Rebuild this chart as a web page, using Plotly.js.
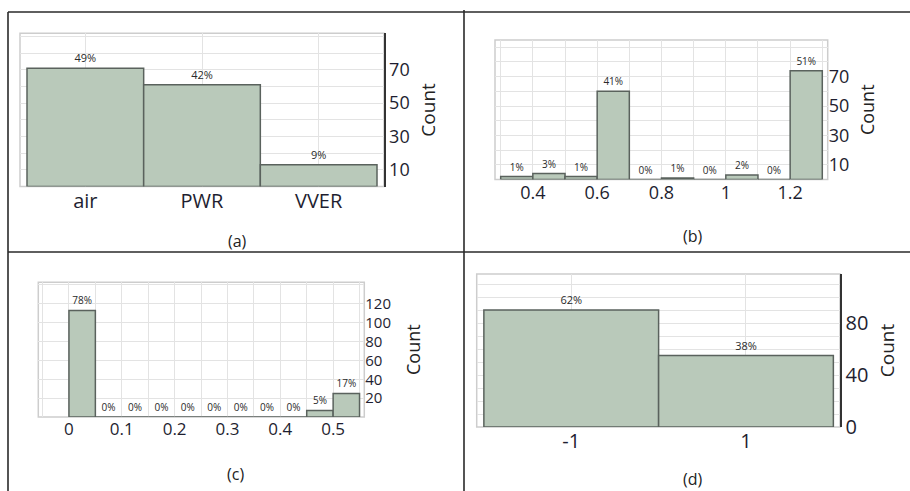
<!DOCTYPE html>
<html><head><meta charset="utf-8">
<script src="https://cdn.plot.ly/plotly-3.0.1.min.js"></script>
<style>html,body{margin:0;padding:0;background:#fff}#chart{width:910px;height:491px}</style>
</head><body><div id="chart"></div>
<script>
// ---------- data ----------
// (a)
const aCategories = ['air', 'PWR', 'VVER'];
const aCounts = [71, 61, 13];
const aPercents = ['49%', '42%', '9%'];
const aYGrid = [0, 10, 20, 30, 40, 50, 60, 70, 80, 90];
const aYLabels = [10, 30, 50, 70];
// (b)
const bBinEdges = [0.3, 0.4, 0.5, 0.6, 0.7, 0.8, 0.9, 1.0, 1.1, 1.2, 1.3];
const bCounts = [2, 4, 2, 60, 0, 1, 0, 3, 0, 74];
const bPercents = ['1%', '3%', '1%', '41%', '0%', '1%', '0%', '2%', '0%', '51%'];
const bXGrid = [0.3, 0.4, 0.5, 0.6, 0.7, 0.8, 0.9, 1.0, 1.1, 1.2, 1.3];
const bXLabels = [0.4, 0.6, 0.8, 1, 1.2];
const bYGrid = [0, 10, 20, 30, 40, 50, 60, 70, 80, 90];
const bYLabels = [10, 30, 50, 70];
// (c)
const cBinEdges = [0, 0.05, 0.1, 0.15, 0.2, 0.25, 0.3, 0.35, 0.4, 0.45, 0.5, 0.55];
const cCounts = [113, 0, 0, 0, 0, 0, 0, 0, 0, 7, 25];
const cPercents = ['78%', '0%', '0%', '0%', '0%', '0%', '0%', '0%', '0%', '5%', '17%'];
const cXGrid = [-0.05, 0, 0.05, 0.1, 0.15, 0.2, 0.25, 0.3, 0.35, 0.4, 0.45, 0.5, 0.55];
const cXLabels = [0, 0.1, 0.2, 0.3, 0.4, 0.5];
const cYGrid = [0, 20, 40, 60, 80, 100, 120, 140];
const cYLabels = [20, 40, 60, 80, 100, 120];
// (d)
const dCategories = ['-1', '1'];
const dCounts = [90, 55];
const dPercents = ['62%', '38%'];
const dYGrid = [0, 10, 20, 30, 40, 50, 60, 70, 80, 90, 100, 110];
const dYLabels = [0, 40, 80];

const panelLabels = ['(a)', '(b)', '(c)', '(d)'];
const yTitle = 'Count';

// ---------- helpers ----------
const W = 910, H = 491;
const F = '"Open Sans", "Noto Sans", sans-serif';
const fx = p => p / W;
const fy = p => 1 - p / H;
const GRID = '#e3e3e3';
const TICKC = '#1e1e30';
const BAR_FILL = '#b9c9ba';
const BAR_LINE = '#5a625d';

const centers = e => e.slice(0, -1).map((v, i) => (v + e[i + 1]) / 2);
const widths = e => e.slice(0, -1).map((v, i) => e[i + 1] - v);
const tickText = (grid, labels) => grid.map(v => labels.some(l => Math.abs(l - v) < 1e-9) ? String(+v.toFixed(3)) : '');

function barTrace(x, y, text, xa, ya, w, fontSize) {
  return {
    type: 'bar', x: x, y: y, width: w, text: text,
    textposition: 'outside', cliponaxis: false, constraintext: 'none',
    textfont: {family: F, size: fontSize, color: '#2a2a2a'},
    marker: {color: BAR_FILL, line: {color: BAR_LINE, width: 1.5}},
    xaxis: xa, yaxis: ya, hoverinfo: 'skip', showlegend: false
  };
}

const data = [
  barTrace(aCategories, aCounts, aPercents, 'x', 'y', 1, 11),
  barTrace(centers(bBinEdges), bCounts, bPercents, 'x2', 'y2', widths(bBinEdges), 10),
  barTrace(centers(cBinEdges), cCounts, cPercents, 'x3', 'y3', widths(cBinEdges), 10),
  barTrace(dCategories, dCounts, dPercents, 'x4', 'y4', 1, 11)
];

function xAx(l, r, anchor, extra) {
  return Object.assign({
    domain: [fx(l), fx(r)], anchor: anchor, showgrid: true, gridcolor: GRID, gridwidth: 1,
    zeroline: false, showline: false, ticks: '', fixedrange: true,
    tickfont: {family: F, size: 18, color: TICKC}
  }, extra);
}
function yAx(top, bottom, anchor, range, grid, labels, lineColor, tsize, ttsize, standoff) {
  return {
    domain: [fy(bottom), fy(top)], anchor: anchor, side: 'right', range: range,
    tickmode: 'array', tickvals: grid, ticktext: tickText(grid, labels),
    showgrid: true, gridcolor: GRID, gridwidth: 1, zeroline: false, ticks: '',
    showline: !!lineColor, linecolor: lineColor || '#ccc', linewidth: 1.5,
    fixedrange: true,
    tickfont: {family: F, size: tsize, color: TICKC},
    title: {text: yTitle, font: {family: F, size: ttsize, color: '#222'}, standoff: standoff}
  };
}

function frame(xa, ya) {
  return {type: 'rect', xref: xa + ' domain', yref: ya + ' domain', x0: 0, x1: 1, y0: 0, y1: 1,
          line: {color: '#cdcdcd', width: 1.5}, layer: 'below'};
}
function sep(x0, y0, x1, y1) {
  return {type: 'line', xref: 'paper', yref: 'paper', x0: fx(x0), y0: fy(y0), x1: fx(x1), y1: fy(y1),
          line: {color: '#2a2a2a', width: 1.6}};
}
function lab(t, x, y) {
  return {text: t, xref: 'paper', yref: 'paper', x: fx(x), y: fy(y), showarrow: false,
          xanchor: 'center', yanchor: 'middle', font: {family: F, size: 16, color: '#222'}};
}

const layout = {
  width: W, height: H, margin: {l: 0, r: 0, t: 0, b: 0},
  paper_bgcolor: '#fff', plot_bgcolor: '#fff', showlegend: false, bargap: 0,
  font: {family: F},
  xaxis: xAx(20, 384, 'y', {type: 'category', range: [-0.56, 2.56], tickfont: {family: F, size: 20, color: TICKC}}),
  yaxis: yAx(33.3, 186.5, 'x', [0, 91.9], aYGrid, aYLabels, '#333', 18, 19, 13),
  xaxis2: xAx(495, 827.7, 'y2', {range: [0.2823, 1.3168], tickmode: 'array', tickvals: bXGrid, ticktext: tickText(bXGrid, bXLabels)}),
  yaxis2: yAx(40, 179.5, 'x2', [0, 94.9], bYGrid, bYLabels, null, 18, 18, 13),
  xaxis3: xAx(38.3, 364.3, 'y3', {range: [-0.058, 0.559], tickmode: 'array', tickvals: cXGrid, ticktext: tickText(cXGrid, cXLabels), tickfont: {family: F, size: 17, color: TICKC}}),
  yaxis3: yAx(282.3, 417, 'x3', [0, 142.8], cYGrid, cYLabels, null, 15, 18, 17),
  xaxis4: xAx(476.7, 840, 'y4', {type: 'category', range: [-0.541, 1.538], tickfont: {family: F, size: 20, color: TICKC}}),
  yaxis4: yAx(274, 427, 'x4', [0, 117.7], dYGrid, dYLabels, '#333', 20, 19, 13),
  shapes: [
    frame('x', 'y'), frame('x2', 'y2'), frame('x3', 'y3'), frame('x4', 'y4'),
    sep(8, 12, 910, 12), sep(8, 252, 910, 252), sep(8, 12, 8, 491), sep(464, 10, 464, 491)
  ],
  annotations: [
    lab(panelLabels[0], 237, 241), lab(panelLabels[1], 692.5, 236),
    lab(panelLabels[2], 235, 474), lab(panelLabels[3], 692.5, 479)
  ]
};

Plotly.newPlot('chart', data, layout, {displayModeBar: false, staticPlot: true});
</script>
</body></html>
